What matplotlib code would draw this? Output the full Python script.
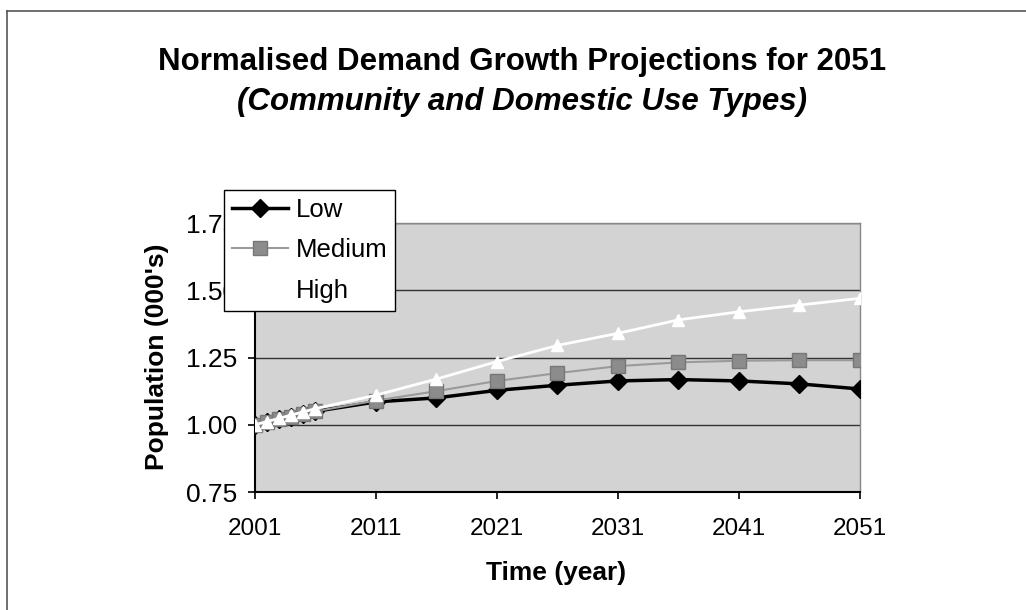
import numpy as np
import matplotlib
matplotlib.use("Agg")
import matplotlib.pyplot as plt
from matplotlib.lines import Line2D
from matplotlib.ticker import FormatStrFormatter

# years of the projection points
years = [2001, 2002, 2003, 2004, 2005, 2006, 2011, 2016, 2021, 2026, 2031, 2036, 2041, 2046, 2051]

# normalised demand for each scenario
low = [1.00, 1.01, 1.02, 1.03, 1.04, 1.05, 1.085, 1.10, 1.128, 1.147, 1.163, 1.168, 1.163, 1.152, 1.133]
medium = [1.00, 1.01, 1.02, 1.03, 1.04, 1.05, 1.09, 1.125, 1.163, 1.192, 1.218, 1.232, 1.238, 1.240, 1.240]
high = [1.00, 1.012, 1.024, 1.036, 1.048, 1.06, 1.11, 1.17, 1.235, 1.295, 1.34, 1.39, 1.42, 1.445, 1.47]

x_ticks = [2001, 2011, 2021, 2031, 2041, 2051]
y_ticks = [0.75, 1.00, 1.25, 1.50, 1.75]

plt.rcParams['font.family'] = ['Liberation Sans', 'DejaVu Sans']

fig = plt.figure(figsize=(10.26, 6.1), dpi=100)
ax = fig.add_axes([0.2485, 0.1934, 0.5897, 0.441])
ax.set_facecolor('#d3d3d3')

# horizontal gridlines
ax.yaxis.grid(True, color='#333333', linewidth=1.0)
ax.set_axisbelow(True)

ax.plot(years, low, color='black', linewidth=2.5, marker='D', markersize=9,
		markerfacecolor='black', markeredgecolor='black', label='Low', zorder=3)
ax.plot(years, medium, color='#9a9a9a', linewidth=1.5, marker='s', markersize=10,
		markerfacecolor='#8c8c8c', markeredgecolor='#777777', label='Medium', zorder=4)
ax.plot(years, high, color='white', linewidth=2, marker='^', markersize=9,
		markerfacecolor='white', markeredgecolor='white', label='High', zorder=5)

ax.set_xlim(2001, 2051)
ax.set_ylim(0.75, 1.75)
ax.set_xticks(x_ticks)
ax.set_yticks(y_ticks)
ax.yaxis.set_major_formatter(FormatStrFormatter('%.2f'))
ax.tick_params(axis='both', length=5, width=1.2, direction='out')
ax.tick_params(axis='x', labelsize=17.5, pad=14)
ax.tick_params(axis='y', labelsize=19, pad=8)

for side in ['left', 'bottom']:
	ax.spines[side].set_color('black')
	ax.spines[side].set_linewidth(1.5)
for side in ['top', 'right']:
	ax.spines[side].set_color('#888888')
	ax.spines[side].set_linewidth(1.0)

# titles and axis labels
fig.text(0.509, 0.898, 'Normalised Demand Growth Projections for 2051', ha='center', va='center',
		 fontsize=22.5, fontweight='bold')
fig.text(0.509, 0.833, '(Community and Domestic Use Types)', ha='center', va='center',
		 fontsize=22.5, fontweight='bold', style='italic')
fig.text(0.153, 0.415, "Population (000's)", ha='center', va='center', rotation=90,
		 fontsize=19, fontweight='bold')
fig.text(0.542, 0.061, 'Time (year)', ha='center', va='center', fontsize=19, fontweight='bold')

# legend sits over the top left of the plot area
leg = fig.legend(loc='upper left', bbox_to_anchor=(0.2183, 0.6885), bbox_transform=fig.transFigure,
				 fontsize=18.5, frameon=True, fancybox=False, framealpha=1, edgecolor='black',
				 borderaxespad=0, handlelength=2.2, handletextpad=0.3, labelspacing=0.65,
				 borderpad=0.3)
leg.get_frame().set_linewidth(1.0)

# outer chart border (top and left edges only)
fig.add_artist(Line2D([0.007, 1.0], [0.982, 0.982], color='#555555', linewidth=1.2))
fig.add_artist(Line2D([0.007, 0.007], [0.0, 0.982], color='#555555', linewidth=1.2))

fig.savefig('out.png', dpi=100, facecolor='white')
